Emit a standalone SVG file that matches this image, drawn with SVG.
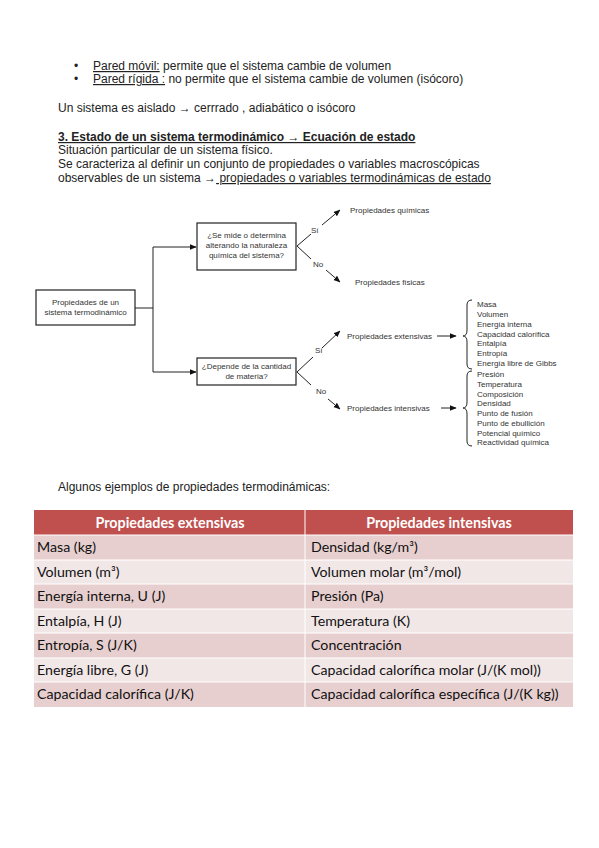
<svg xmlns="http://www.w3.org/2000/svg" width="599" height="848" viewBox="0 0 599 848">
<defs>
<style>
.t{font-family:"Liberation Sans",Arial,sans-serif;font-size:12px;fill:#222}
.u{text-decoration:underline}
.d{font-family:"Liberation Sans",Arial,sans-serif;font-size:8px;fill:#333}
.l{stroke:#222;stroke-width:1;fill:none}
.bx{fill:#fff;stroke:#222;stroke-width:1.2}
.c{font-family:Lato,"Open Sans",sans-serif;font-size:14.2px;fill:#111}
.h{font-family:Lato,"Open Sans",sans-serif;font-size:14.3px;font-weight:bold;fill:#fff}
</style>
<marker id="ah" viewBox="0 0 10 10" refX="9" refY="5" markerWidth="7" markerHeight="7" orient="auto" markerUnits="userSpaceOnUse"><path d="M0,1 L10,5 L0,9 z" fill="#111"/></marker>
</defs>
<rect width="599" height="848" fill="#fff"/>
<g id="text-top">
<text class="t" x="74" y="70">•</text>
<text class="t" x="93" y="70"><tspan class="u">Pared móvil:</tspan> permite que el sistema cambie de volumen</text>
<text class="t" x="74" y="83">•</text>
<text class="t" x="93" y="83"><tspan class="u">Pared rígida :</tspan> no permite que el sistema cambie de volumen (isócoro)</text>
<text class="t" x="58" y="112">Un sistema es aislado → cerrrado , adiabático o isócoro</text>
<text class="t u" x="58" y="141" font-weight="bold">3. Estado de un sistema termodinámico → Ecuación de estado</text>
<text class="t" x="58" y="154">Situación particular de un sistema físico.</text>
<text class="t" x="58" y="168">Se caracteriza al definir un conjunto de propiedades o variables macroscópicas</text>
<text class="t" x="58" y="182">observables de un sistema →<tspan class="u"> propiedades o variables termodinámicas de estado </tspan></text>
</g>
<g id="connectors">
<path class="l" d="M135,308 H153" stroke="#777"/>
<path class="l" d="M153,247 V372" stroke="#555"/>
<path class="l" d="M153,247 H196" marker-end="url(#ah)"/>
<path class="l" d="M153,372 H196" marker-end="url(#ah)"/>
<path class="l" d="M297,246 L311,234 M322,225 L340,210" marker-end="url(#ah)"/>
<path class="l" d="M297,246 L311,259 M326,270 L340,282" marker-end="url(#ah)"/>
<path class="l" d="M297,372 L313,357 M322,348 L340,331" marker-end="url(#ah)"/>
<path class="l" d="M297,372 L311,385 M328,399 L340,409" marker-end="url(#ah)"/>
<path class="l" d="M437,336 H456" marker-end="url(#ah)"/>
<path class="l" d="M441,408 H456" marker-end="url(#ah)"/>
<text class="d" x="311" y="233">Sí</text>
<text class="d" x="313" y="267">No</text>
<text class="d" x="315" y="353">Sí</text>
<text class="d" x="316" y="394">No</text>
</g>
<g id="n-root">
<rect class="bx" x="36" y="290" width="99" height="35"/>
<text class="d" x="85.5" y="305" text-anchor="middle">Propiedades de un</text>
<text class="d" x="85.5" y="315" text-anchor="middle">sistema termodinámico</text>
</g>
<g id="n-q1">
<rect class="bx" x="197" y="223" width="99" height="47"/>
<text class="d" x="246.5" y="238" text-anchor="middle">¿Se mide o determina</text>
<text class="d" x="246.5" y="248" text-anchor="middle">alterando la naturaleza</text>
<text class="d" x="246.5" y="258" text-anchor="middle">química del sistema?</text>
</g>
<g id="n-q2">
<rect class="bx" x="197" y="358" width="99" height="27"/>
<text class="d" x="246.5" y="369" text-anchor="middle">¿Depende de la cantidad</text>
<text class="d" x="246.5" y="379" text-anchor="middle">de materia?</text>
</g>
<g id="n-quimicas"><text class="d" x="350" y="213">Propiedades químicas</text></g>
<g id="n-fisicas"><text class="d" x="355" y="285">Propiedades físicas</text></g>
<g id="n-extensivas"><text class="d" x="347" y="339">Propiedades extensivas</text></g>
<g id="n-intensivas"><text class="d" x="347" y="411">Propiedades intensivas</text></g>
<g id="n-list-ext">
<path class="l" d="M472,300 Q467,300 467,305 V330 Q467,336 463,336 Q467,336 467,342 V364 Q467,369 472,369" stroke-width="0.8"/>
<text class="d" x="477" y="307">Masa</text>
<text class="d" x="477" y="317">Volumen</text>
<text class="d" x="477" y="327">Energía interna</text>
<text class="d" x="477" y="336.5">Capacidad calorífica</text>
<text class="d" x="477" y="346">Entalpía</text>
<text class="d" x="477" y="356">Entropía</text>
<text class="d" x="477" y="366">Energía libre de Gibbs</text>
</g>
<g id="n-list-int">
<path class="l" d="M472,371 Q467,371 467,376 V402 Q467,408 463,408 Q467,408 467,414 V441 Q467,446 472,446" stroke-width="0.8"/>
<text class="d" x="477" y="377">Presión</text>
<text class="d" x="477" y="387">Temperatura</text>
<text class="d" x="477" y="397">Composición</text>
<text class="d" x="477" y="406">Densidad</text>
<text class="d" x="477" y="416">Punto de fusión</text>
<text class="d" x="477" y="426">Punto de ebullición</text>
<text class="d" x="477" y="436">Potencial químico</text>
<text class="d" x="477" y="445">Reactividad química</text>
</g>
<g id="text-ejemplos"><text class="t" x="58" y="491">Algunos ejemplos de propiedades termodinámicas:</text></g>
<g id="table">
<rect x="34" y="510" width="539" height="25" fill="#c0504d"/>
<rect x="34" y="535" width="539" height="25" fill="#e6cfce"/>
<rect x="34" y="560" width="539" height="24" fill="#f2e7e7"/>
<rect x="34" y="584" width="539" height="25" fill="#e6cfce"/>
<rect x="34" y="609" width="539" height="24" fill="#f2e7e7"/>
<rect x="34" y="633" width="539" height="25" fill="#e6cfce"/>
<rect x="34" y="658" width="539" height="24" fill="#f2e7e7"/>
<rect x="34" y="682" width="539" height="25" fill="#e6cfce"/>
<path d="M305,510 V707 M34,535 H573 M34,560 H573 M34,584 H573 M34,609 H573 M34,633 H573 M34,658 H573 M34,682 H573" stroke="#fff" stroke-width="1"/>
<text class="h" x="170" y="527.5" text-anchor="middle">Propiedades extensivas</text>
<text class="h" x="439" y="527.5" text-anchor="middle">Propiedades intensivas</text>
<text class="c" x="37" y="552">Masa (kg)</text>
<text class="c" x="311" y="552">Densidad (kg/m³)</text>
<text class="c" x="37" y="576.5">Volumen (m³)</text>
<text class="c" x="311" y="576.5">Volumen molar (m³/mol)</text>
<text class="c" x="37" y="601">Energía interna, U (J)</text>
<text class="c" x="311" y="601">Presión (Pa)</text>
<text class="c" x="37" y="625.5">Entalpía, H (J)</text>
<text class="c" x="311" y="625.5">Temperatura (K)</text>
<text class="c" x="37" y="650">Entropía, S (J/K)</text>
<text class="c" x="311" y="650">Concentración</text>
<text class="c" x="37" y="674.5">Energía libre, G (J)</text>
<text class="c" x="311" y="674.5">Capacidad calorífica molar (J/(K mol))</text>
<text class="c" x="37" y="699">Capacidad calorífica (J/K)</text>
<text class="c" x="311" y="699">Capacidad calorífica específica (J/(K kg))</text>
</g>
</svg>
